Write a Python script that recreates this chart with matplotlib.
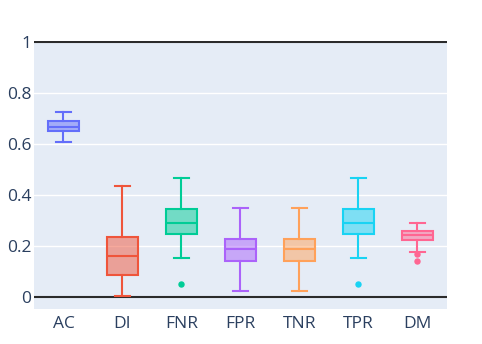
import matplotlib
matplotlib.use("Agg")
import matplotlib.pyplot as plt
from matplotlib.colors import to_rgba

categories = ["AC", "DI", "FNR", "FPR", "TNR", "TPR", "DM"]
whislo = [0.607, 0.004, 0.153, 0.024, 0.024, 0.153, 0.176]
q1 = [0.652, 0.085, 0.246, 0.140, 0.140, 0.246, 0.223]
med = [0.667, 0.161, 0.288, 0.186, 0.186, 0.288, 0.243]
q3 = [0.689, 0.233, 0.344, 0.228, 0.228, 0.344, 0.259]
whishi = [0.726, 0.436, 0.467, 0.348, 0.348, 0.467, 0.291]
fliers = [[], [], [0.051], [], [], [0.051], [0.169, 0.139]]
colors = ["#636EFA", "#EF553B", "#00CC96", "#AB63FA", "#FFA15A", "#19D3F3", "#FF6692"]
yticks = [0, 0.2, 0.4, 0.6, 0.8, 1]
ytick_labels = ["0", "0.2", "0.4", "0.6", "0.8", "1"]

plt.rcParams['font.family'] = ['Open Sans', 'DejaVu Sans']
fig = plt.figure(figsize=(4.82, 3.44), dpi=100)
ax = fig.add_axes([34/482, 35/344, 413/482, 268/344])
ax.set_facecolor("#E5ECF6")

for i, c in enumerate(categories):
    stats = [dict(label=c, whislo=whislo[i], q1=q1[i], med=med[i], q3=q3[i],
                  whishi=whishi[i], fliers=fliers[i])]
    col = colors[i]
    ax.bxp(stats, positions=[i], widths=0.51, capwidths=0.25, patch_artist=True,
           showfliers=True,
           boxprops=dict(facecolor=to_rgba(col, 0.5), edgecolor=col, linewidth=1.5),
           medianprops=dict(color=col, linewidth=1.5),
           whiskerprops=dict(color=col, linewidth=1.5),
           capprops=dict(color=col, linewidth=1.5),
           flierprops=dict(marker='o', markerfacecolor=col, markeredgecolor=col,
                           markersize=3.6, linestyle='none'),
           zorder=3)

for y in [0.2, 0.4, 0.6, 0.8]:
    ax.axhline(y, color="white", lw=1.0, zorder=1)
ax.axhline(0, color="#2b2b2b", lw=1.5, zorder=2)
ax.axhline(1, color="#2b2b2b", lw=1.5, zorder=2)

ax.set_xlim(-0.5, len(categories) - 0.5)
ax.set_ylim(-0.048, 1.004)
ax.set_xticks(range(len(categories)))
ax.set_xticklabels(categories)
ax.set_yticks(yticks)
ax.set_yticklabels(ytick_labels)
ax.tick_params(axis='both', length=0, labelsize=12.5, labelcolor="#2a3f5f")
ax.tick_params(axis='x', pad=5)
ax.tick_params(axis='y', pad=2)
for s in ax.spines.values():
    s.set_visible(False)

fig.savefig("out.png", dpi=100, facecolor="white")
